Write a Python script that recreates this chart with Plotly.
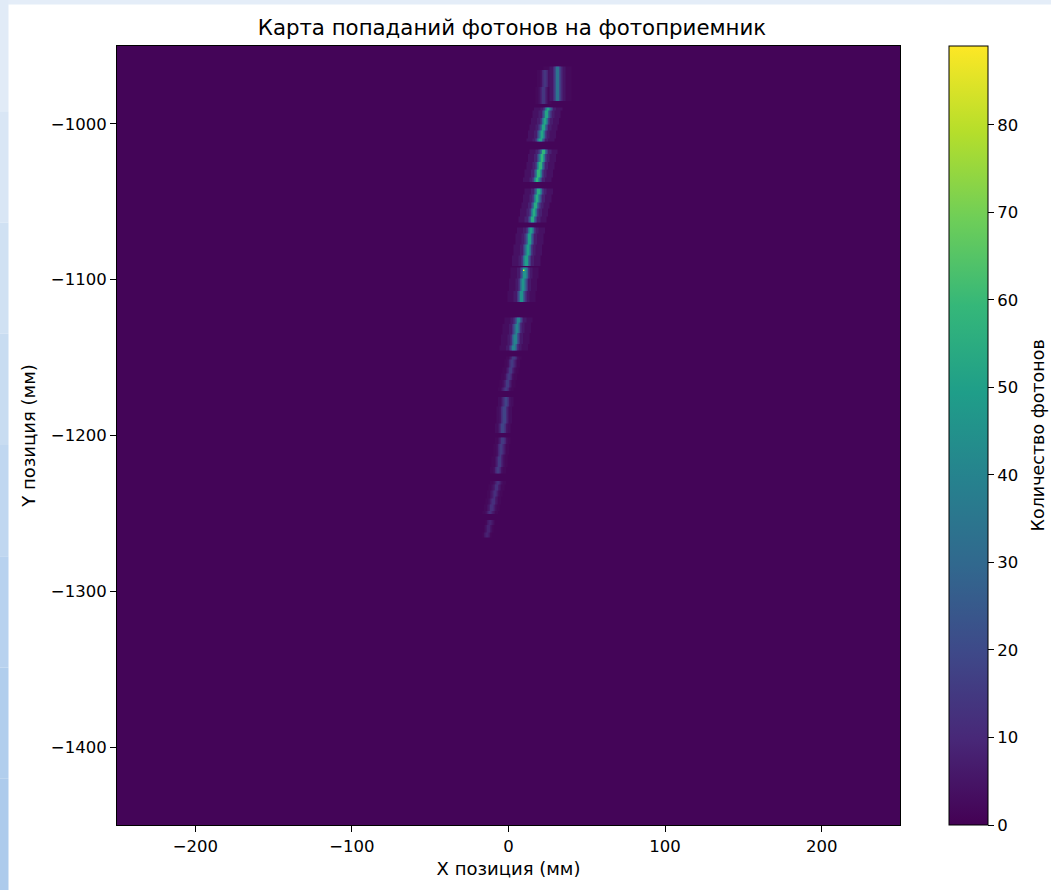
import numpy as np
import plotly.graph_objects as go

# ---- data ----
# streak segments on the photodetector (mm): top/bottom y, x at top/bottom, peak photon count
seg_y_top = [-963, -965, -989, -1016, -1041, -1066, -1092, -1124, -1149, -1175, -1201, -1229, -1254]
seg_y_bot = [-985, -987, -1011, -1037, -1063, -1091, -1114, -1145, -1171, -1198, -1224, -1250, -1265]
seg_x_top = [31, 23, 25, 22, 19.5, 14, 10.5, 6, 3, -2, -4, -7, -12]
seg_x_bot = [30.5, 22, 20, 18, 14.5, 10.5, 7.5, 3, -2, -4, -7, -12, -14]
seg_peak = [34, 14, 52, 58, 54, 50, 46, 40, 15, 18, 15, 12, 8]
hot_x = [9]
hot_y = [-1094]
hot_val = [89]
background_count = 1

x_min, x_max = -250, 250
y_min, y_max = -1450, -950

# ---- histogram grid (1 mm bins) ----
xc = np.arange(x_min, x_max) + 0.5
yc = np.arange(y_min, y_max) + 0.5
z = np.full((len(yc), len(xc)), float(background_count))

prof_d = [1.0, 2.0, 3.0, 5.0, 9.0]
prof_f = [1.0, 0.62, 0.3, 0.14, 0.07]
for yt, yb, xt, xb, pk in zip(seg_y_top, seg_y_bot, seg_x_top, seg_x_bot, seg_peak):
    for j, yv in enumerate(yc):
        if yb <= yv <= yt:
            t = (yt - yv) / (yt - yb)
            xcen = xt + t * (xb - xt)
            d = np.abs(xc - xcen)
            v = np.zeros_like(d)
            for dd, ff in zip(prof_d[::-1], prof_f[::-1]):
                v[d < dd] = pk * ff
            z[j] = np.maximum(z[j], v)
for hx, hy, hv in zip(hot_x, hot_y, hot_val):
    z[int(hy - y_min), int(hx - x_min)] = hv
z = np.round(z)

# ---- figure ----
W, H = 1051, 890
L, R, T, B = 117, 900, 46, 825
pw, ph = R - L, B - T
FONT = "DejaVu Sans"


def px_x(p):
    return (p - L) / pw


def px_y(p):
    return (B - p) / ph


fig = go.Figure()
fig.add_trace(go.Heatmap(
    x=xc, y=yc, z=z, colorscale="Viridis", zmin=0, zmax=89, zsmooth="best",
    colorbar=dict(
        x=px_x(949), xanchor="left", xref="paper",
        y=0.5, yanchor="middle", len=ph, lenmode="pixels",
        thickness=39, thicknessmode="pixels",
        outlinecolor="black", outlinewidth=1,
        ticks="outside", ticklen=6, tickwidth=1, tickcolor="black",
        tickvals=[0, 10, 20, 30, 40, 50, 60, 70, 80],
        tickfont=dict(family=FONT, size=16.5, color="black"),
        xpad=0, ypad=0,
    ),
    hoverinfo="skip",
))

shapes = []
# page decoration: light blue strips at top and left edge
shapes.append(dict(type="rect", xref="paper", yref="paper",
                   x0=px_x(0), x1=px_x(W), y0=px_y(4.5), y1=px_y(0),
                   fillcolor="#e4edf8", line=dict(width=0), layer="above"))
left_cols = ["#e1ebf7", "#d9e6f5", "#d0e1f3", "#c8dcf1", "#c0d7f0", "#b8d2ef", "#b1ceed", "#adcbec"]
n = len(left_cols)
for k, c in enumerate(left_cols):
    shapes.append(dict(type="rect", xref="paper", yref="paper",
                       x0=px_x(0), x1=px_x(8.5),
                       y0=px_y(H * (k + 1) / n), y1=px_y(H * k / n),
                       fillcolor=c, line=dict(width=0), layer="above"))

axis_common = dict(
    showgrid=False, zeroline=False, ticks="outside", ticklen=6, tickwidth=1,
    tickcolor="black", showline=True, linecolor="black", linewidth=1, mirror=True,
    tickfont=dict(family=FONT, size=16.5, color="black"),
)

fig.update_layout(
    width=W, height=H,
    margin=dict(l=L, r=W - R, t=T, b=H - B, autoexpand=False),
    paper_bgcolor="white", plot_bgcolor="#440154",
    title=dict(text="Карта попаданий фотонов на фотоприемник", x=px_x(512), xref="paper",
               xanchor="center", y=1 - 28 / H, yref="container", yanchor="middle",
               font=dict(family=FONT, size=21.3, color="black")),
    xaxis=dict(range=[x_min, x_max], tickvals=[-200, -100, 0, 100, 200],
               title=dict(text="X позиция (мм)", standoff=7,
                          font=dict(family=FONT, size=18, color="black")),
               **axis_common),
    yaxis=dict(range=[y_min, y_max], tickvals=[-1400, -1300, -1200, -1100, -1000],
               title=dict(text="Y позиция (мм)", standoff=10,
                          font=dict(family=FONT, size=18, color="black")),
               **axis_common),
    shapes=shapes,
    annotations=[dict(text="Количество фотонов", xref="paper", yref="paper",
                      x=px_x(1037), y=0.5, xanchor="center", yanchor="middle",
                      textangle=-90, showarrow=False,
                      font=dict(family=FONT, size=17.5, color="black"))],
    font=dict(family=FONT),
)

fig.write_html("out.html")
